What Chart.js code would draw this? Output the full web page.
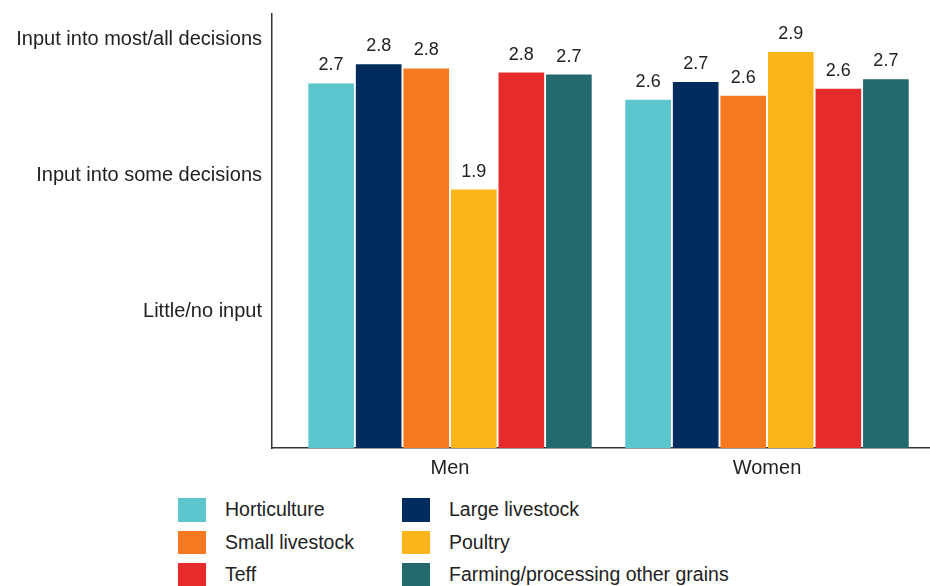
<!DOCTYPE html>
<html>
<head>
<meta charset="utf-8">
<script src="https://cdn.jsdelivr.net/npm/chart.js@4"></script>
<style>
  body { margin: 0; overflow: hidden; background: #fff; font-family: "Liberation Sans", Arial, sans-serif; }
  #wrap { position: relative; width: 930px; height: 586px; overflow: hidden; }
  #myChart { position: absolute; left: 0; top: 0; }
  #legend { position: absolute; left: 178px; top: 498px; display: grid; grid-template-columns: 224px auto; grid-auto-rows: 32.5px; }
  .item { display: flex; align-items: flex-start; font-size: 19.5px; color: #222; }
  .box { width: 28px; height: 23.5px; margin-right: 19px; flex: none; }
  .item span { line-height: 23.5px; white-space: nowrap; }
</style>
</head>
<body>
<div id="wrap">
  <canvas id="myChart" width="960" height="490"></canvas>
  <div id="legend"></div>
</div>
<script>
// groups on the x axis (placed at 1 and 2)
const groups = ['Men', 'Women'];
const yLabels = {1: 'Little/no input', 2: 'Input into some decisions', 3: 'Input into most/all decisions'};

const seriesNames = ['Horticulture', 'Large livestock', 'Small livestock', 'Poultry', 'Teff', 'Farming/processing other grains'];
const seriesColors = ['#5BC6CC', '#022C5B', '#F47920', '#FBB41A', '#E52B2B', '#226A6D'];

// values: [Men, Women]
const horticulture = [2.68, 2.56];
const largeLivestock = [2.82, 2.69];
const smallLivestock = [2.79, 2.59];
const poultry = [1.90, 2.91];
const teff = [2.76, 2.64];
const otherGrains = [2.745, 2.71];

const seriesValues = [horticulture, largeLivestock, smallLivestock, poultry, teff, otherGrains];

const FONT = '"Liberation Sans", Arial, sans-serif';

const barLabels = {
    id: 'barLabels',
    afterDatasetsDraw(chart) {
        const ctx = chart.ctx;
        ctx.save();
        ctx.font = '18px ' + FONT;
        ctx.fillStyle = '#222';
        ctx.textAlign = 'center';
        ctx.textBaseline = 'alphabetic';
        chart.data.datasets.forEach((ds, i) => {
            chart.getDatasetMeta(i).data.forEach((bar, j) => {
                ctx.fillText(ds.data[j].y.toFixed(1), bar.x, bar.y - 13);
            });
        });
        ctx.restore();
    }
};

const datasets = seriesNames.map((name, i) => ({
    label: name,
    data: seriesValues[i].map((v, j) => ({x: j + 1, y: v})),
    backgroundColor: seriesColors[i],
    borderWidth: 0,
    categoryPercentage: 0.9,
    barPercentage: 0.96
}));

const ctx = document.getElementById('myChart').getContext('2d');
const myChart = new Chart(ctx, {
    type: 'bar',
    data: { datasets: datasets },
    plugins: [barLabels],
    options: {
        responsive: false,
        animation: false,
        layout: { padding: { top: 14, left: 0, right: 0, bottom: 0 } },
        plugins: { legend: { display: false }, tooltip: { enabled: false } },
        scales: {
            x: {
                type: 'linear',
                offset: false,
                min: 0.4385,
                max: 2.6088,
                grid: { display: false, drawTicks: false },
                border: { display: true, color: '#333', width: 1.5 },
                afterBuildTicks: (s) => { s.ticks = groups.map((g, i) => ({value: i + 1})); },
                afterFit: (s) => { s.height = 42; s.paddingLeft = 0; s.paddingRight = 0; },
                ticks: {
                    padding: 8,
                    color: '#222',
                    font: { size: 20, family: FONT },
                    callback: (v) => groups[v - 1]
                }
            },
            y: {
                min: 0,
                max: 3.19,
                grid: { display: false, drawTicks: false },
                border: { display: true, color: '#333', width: 1.5 },
                afterBuildTicks: (s) => { s.ticks = [1, 2, 3].map(v => ({value: v})); },
                afterFit: (s) => { s.width = 272; s.paddingTop = 0; s.paddingBottom = 0; },
                ticks: {
                    padding: 10,
                    color: '#222',
                    font: { size: 20, family: FONT },
                    callback: (v) => yLabels[v]
                }
            }
        }
    }
});

// legend in two columns, built from the chart's datasets
const legend = document.getElementById('legend');
myChart.data.datasets.forEach((ds) => {
    const item = document.createElement('div');
    item.className = 'item';
    item.innerHTML = '<div class="box" style="background:' + ds.backgroundColor + '"></div><span>' + ds.label + '</span>';
    legend.appendChild(item);
});
</script>
</body>
</html>
